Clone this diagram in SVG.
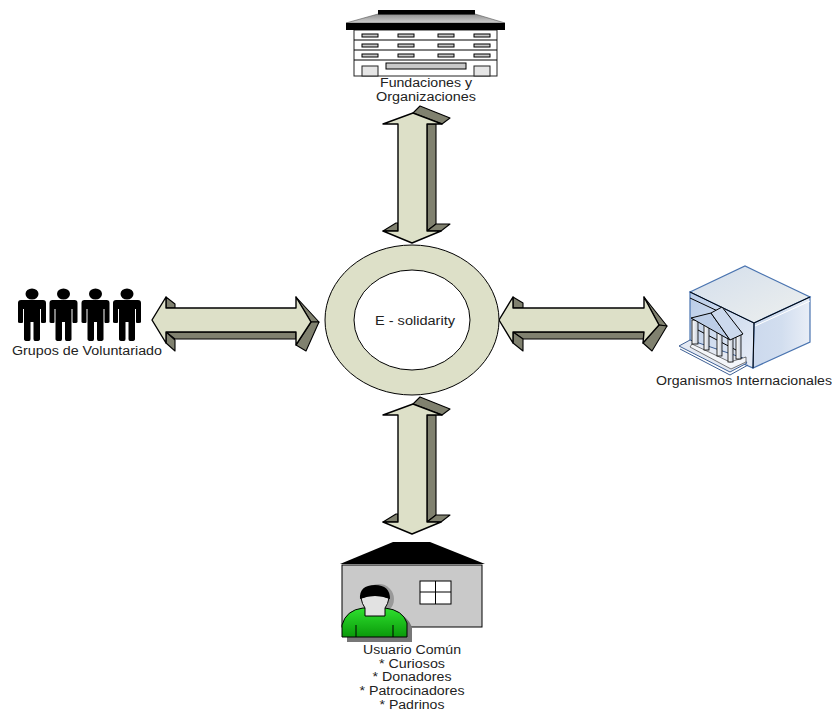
<svg xmlns="http://www.w3.org/2000/svg" width="832" height="711" viewBox="0 0 832 711">
<style>
text{font-family:"Liberation Sans",Arial,sans-serif;font-size:12px;fill:#222;text-anchor:middle}
.f{fill:#dde0c8;stroke:#000;stroke-width:1.4;stroke-linejoin:round}
.d{fill:#80816f;stroke:#000;stroke-width:1.1;stroke-linejoin:round}
.k{fill:#000}
.win{fill:#c8c8c8;stroke:#000;stroke-width:1}
.ln{stroke:#000;stroke-width:1;fill:none}
.col{fill:url(#col);stroke:#000;stroke-width:.8}
</style>
<defs>
<linearGradient id="top" x1="0" y1="0" x2="1" y2="1"><stop offset="0" stop-color="#d3deec"/><stop offset="1" stop-color="#eef0ee"/></linearGradient>
<linearGradient id="side" x1="0" y1="0" x2="1" y2="0"><stop offset="0" stop-color="#ccd9ed"/><stop offset=".5" stop-color="#d2deef"/><stop offset="1" stop-color="#e9eef7"/></linearGradient>
<linearGradient id="front" x1="0" y1="0" x2="1" y2="1"><stop offset="0" stop-color="#b9cce8"/><stop offset="1" stop-color="#e8edf6"/></linearGradient>
<linearGradient id="col" x1="0" y1="0" x2="1" y2="0"><stop offset="0" stop-color="#fff"/><stop offset="1" stop-color="#c4ccd8"/></linearGradient>
<linearGradient id="roof" x1="0" y1="0" x2="0" y2="1"><stop offset="0" stop-color="#8f8f8f"/><stop offset="1" stop-color="#d0d0d0"/></linearGradient>
<linearGradient id="green" x1="0" y1="0" x2="0" y2="1"><stop offset="0" stop-color="#2ee02e"/><stop offset="1" stop-color="#0a9a0a"/></linearGradient>
<g id="vArrow">
<polygon class="d" points="413,113 420,106 450,118 442,124"/>
<polygon class="d" points="427,124 436,124 436,224 427,231"/>
<polygon class="d" points="383,231 396,223 398,223 398,231"/>
<polygon class="d" points="427,231 436,224 450,224 441,231"/>
<polygon class="f" points="413,113 442,124 427,124 427,231 441,231 412,243 383,231 398,231 398,124 383,124"/>
</g>
<g id="person">
<ellipse cx="0" cy="14" rx="6.500" ry="5.500"/>
<path d="M-11,20H11Q14,20 14,23V42Q14,43 12,43H10Q9,43 9,42V29H8V59Q8,61 5,61H3Q1.500,61 1.500,59V42H-1.500V59Q-1.500,61 -3,61H-5Q-8,61 -8,59V29H-9V42Q-9,43 -10,43H-12Q-14,43 -14,42V23Q-14,20 -11,20Z"/>
</g>
</defs>

<g id="connectors">
<use href="#vArrow"/>
<use href="#vArrow" y="291"/>
<g id="arrow-left">
<polygon class="d" points="166,297 175,304 175,308 166,308"/>
<polygon class="d" points="166,332 175,339 296,339 296,332"/>
<polygon class="d" points="166,332 175,340 175,351 166,343"/>
<polygon class="d" points="296,297 319,322 311,322"/>
<polygon class="d" points="311,322 319,322 306,351 296,345"/>
<polygon class="f" points="152,320 166,297 166,308 296,308 296,297 311,322 296,345 296,332 166,332 166,343"/>
</g>
<g id="arrow-right">
<polygon class="d" points="513,297 523,303 523,308 513,308"/>
<polygon class="d" points="513,332 523,339 644,339 644,332"/>
<polygon class="d" points="513,332 523,339 523,351 513,343"/>
<polygon class="d" points="644,297 667,326 659,325"/>
<polygon class="d" points="659,325 667,326 652,351 643,343"/>
<polygon class="f" points="499,320 513,297 513,308 644,308 644,297 659,325 643,343 644,332 513,332 513,343"/>
</g>
</g>

<g id="hub">
<ellipse cx="412" cy="320" rx="87" ry="75" fill="#dde0c8" stroke="#000" stroke-width="1"/>
<ellipse cx="412" cy="320" rx="58" ry="50" fill="#fff" stroke="#000" stroke-width="1"/>
<text x="415" y="325" textLength="80" lengthAdjust="spacingAndGlyphs">E - solidarity</text>
</g>

<g id="fundaciones">
<polygon points="378,14 475,14 505,23 346,23" fill="url(#roof)" stroke="#555" stroke-width=".6"/>
<rect class="k" x="378" y="10" width="97" height="4.500"/>
<rect x="354" y="30" width="143" height="46" fill="#fff" stroke="#222"/>
<polygon class="k" points="346,23 505,23 505,30 346,30"/>
<path class="ln" d="M354,40H497M354,50H497M354,60H497"/>
<g class="win">
<rect x="362" y="34" width="16" height="3"/><rect x="398" y="34" width="16" height="3"/><rect x="438" y="34" width="16" height="3"/><rect x="474" y="34" width="16" height="3"/>
<rect x="362" y="44" width="16" height="3"/><rect x="398" y="44" width="16" height="3"/><rect x="438" y="44" width="16" height="3"/><rect x="474" y="44" width="16" height="3"/>
<rect x="362" y="54" width="16" height="3"/><rect x="398" y="54" width="16" height="3"/><rect x="438" y="54" width="16" height="3"/><rect x="474" y="54" width="16" height="3"/>
<rect x="386" y="63" width="80" height="6"/>
</g>
<rect x="362" y="66" width="16" height="10" fill="#e6e6e6" stroke="#222"/>
<rect x="474" y="66" width="16" height="10" fill="#e6e6e6" stroke="#222"/>
<text x="426" y="87" textLength="92" lengthAdjust="spacingAndGlyphs">Fundaciones y</text>
<text x="426" y="101" textLength="100" lengthAdjust="spacingAndGlyphs">Organizaciones</text>
</g>

<g id="voluntariado">
<use href="#person" x="32" y="280"/>
<use href="#person" x="63.500" y="280"/>
<use href="#person" x="95.500" y="280"/>
<use href="#person" x="127" y="280"/>
<text x="87" y="355" textLength="150" lengthAdjust="spacingAndGlyphs">Grupos de Voluntariado</text>
</g>

<g id="organismos">
<polygon points="690,292 745,266 810,297 754,323" fill="url(#top)" stroke="#4a74b0" stroke-width="1.200"/>
<polygon points="754,323 810,297 810,342 753,368" fill="url(#side)" stroke="#4a74b0" stroke-width="1.200"/>
<polygon points="690,292 754,323 753,368 690,340" fill="url(#front)" stroke="#4a74b0" stroke-width="1.200"/>
<path class="ln" d="M690,292L754,323L810,297M754,323L753,368"/>
<path class="ln" d="M690,298L722,313"/>
<path d="M755,326L810,301" stroke="#fff" stroke-width="1" fill="none"/>
<polygon points="679,346 690,340 743,358 747,363 730,372" fill="#e4e9f3" stroke="#3d5f94" stroke-width="1"/>
<path d="M680,349L730,375L748,365" stroke="#3d5f94" stroke-width="1" fill="none"/>
<polygon points="692,344 730,362 746,357 746,362 731,369 690,347" fill="#f4f6fa" stroke="#222" stroke-width=".6"/>
<path class="ln" d="M698,330L736,350"/>
<rect class="col" x="692" y="320" width="6" height="24"/>
<rect class="col" x="704" y="324" width="5" height="26"/>
<rect class="col" x="717" y="331" width="5" height="25"/>
<rect class="col" x="728" y="338" width="5" height="24"/>
<rect class="col" x="736" y="334" width="5" height="25"/>
<polygon points="691,318 711,313 730,340" fill="#bccde7" stroke="#000" stroke-width="1" stroke-linejoin="round"/>
<polygon points="711,313 722,307 743,334 730,340" fill="#ccd9ed" stroke="#000" stroke-width="1" stroke-linejoin="round"/>
<text x="744" y="385" textLength="176" lengthAdjust="spacingAndGlyphs">Organismos Internacionales</text>
</g>

<g id="usuario">
<rect x="342" y="565" width="140" height="62" fill="#c9c9c9" stroke="#000"/>
<polygon class="k" points="340,564 393,542 430,542 485,564"/>
<rect x="420" y="581" width="31" height="23" fill="#fff" stroke="#000"/>
<path class="ln" d="M435.500,581V604M420,592H451"/>
<path d="M347,642V630Q352,612 368,612H390Q408,614 412,628V642Z" fill="#777"/>
<ellipse cx="379" cy="599" rx="15" ry="15" fill="#999"/>
<path d="M342,637V625Q346,610 363,608H385Q403,610 407,623V637Z" fill="url(#green)" stroke="#000"/>
<path class="ln" d="M356,625V637M393,625V637"/>
<path d="M361,598Q362,604 365,608V616H385V608Q388,604 389,598Q375,592 361,598Z" fill="#e2e2e2" stroke="#000"/>
<path d="M360,599Q359,585 375,585Q390,585 390,599Q375,593 360,599Z" fill="#000"/>
<text x="412" y="654" textLength="98" lengthAdjust="spacingAndGlyphs">Usuario Común</text>
<text x="412" y="668" textLength="66" lengthAdjust="spacingAndGlyphs">* Curiosos</text>
<text x="412" y="681" textLength="79" lengthAdjust="spacingAndGlyphs">* Donadores</text>
<text x="412" y="695" textLength="105" lengthAdjust="spacingAndGlyphs">* Patrocinadores</text>
<text x="412" y="709" textLength="65" lengthAdjust="spacingAndGlyphs">* Padrinos</text>
</g>
</svg>
